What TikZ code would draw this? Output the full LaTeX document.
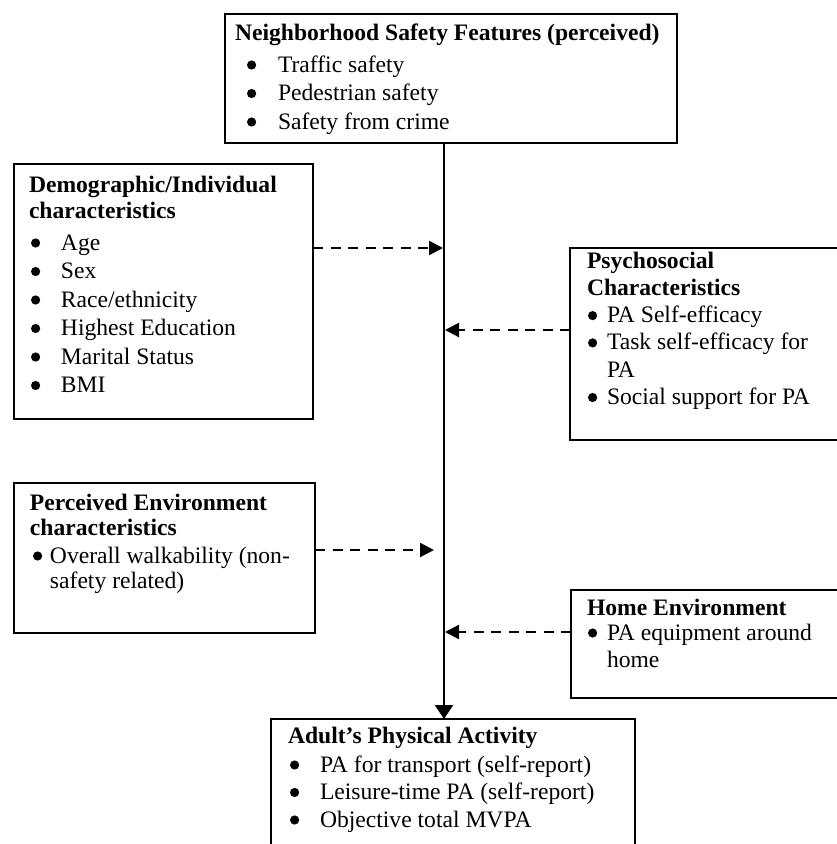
\documentclass[tikz,border=0pt]{standalone}
\usepackage{fontspec}
\setmainfont{Liberation Serif}
\usetikzlibrary{arrows.meta}
\newcommand\bigdot{\tikz[baseline=0pt]\fill[black] (4.6pt,7pt) circle[radius=4.6pt];}
\newcommand\bul[2]{\makebox[#1][l]{\bigdot}#2}
\newcommand\fsA{\fontsize{23.6}{28.5}\selectfont}
\newcommand\fsB{\fontsize{23.6}{27.3}\selectfont}
\newcommand\fsC{\fontsize{23.6}{26.5}\selectfont}
\newcommand\fsD{\fontsize{23.6}{27.5}\selectfont}
\begin{document}
\begin{tikzpicture}[x=1pt,y=-1pt,
  panel/.style={draw, line width=2.4pt, anchor=north west, inner sep=0pt, outer sep=0pt},
  txt/.style={anchor=base west, inner sep=0pt, outer sep=0pt},
  flow/.style={line width=2.3pt, -{Triangle[length=14pt,width=18pt]}},
  dflow/.style={line width=2.2pt, dash pattern=on 10pt off 7.5pt, -{Triangle[length=14pt,width=14pt]}}]
\useasboundingbox (0,0) rectangle (837,844);
\fill[white] (0,0) rectangle (837,844);
\clip (0,0) rectangle (837,844);

% boxes
\node[panel, minimum width=452pt, minimum height=129pt] (nsf) at (225,14) {};
\node[panel, minimum width=299pt, minimum height=255pt] (demo) at (14,164) {};
\node[panel, minimum width=280pt, minimum height=192pt] (psy) at (570,248) {};
\node[panel, minimum width=301pt, minimum height=150pt] (perc) at (14,483) {};
\node[panel, minimum width=280pt, minimum height=108pt] (home) at (571,590) {};
\node[panel, minimum width=364pt, minimum height=140pt] (adult) at (271,719) {};

% texts
\node[txt, font=\fsA] (nsft) at (235,40) {\begin{tabular}[t]{@{}l@{}}
\textbf{Neighborhood Safety Features (perceived)}\\[3.5pt]
\hspace{12pt}\bul{31pt}{Traffic safety}\\
\hspace{12pt}\bul{31pt}{Pedestrian safety}\\
\hspace{12pt}\bul{31pt}{Safety from crime}
\end{tabular}};

\node[txt, font=\fsA] (demot) at (29,192) {\begin{tabular}[t]{@{}l@{}}
\textbf{Demographic/Individual}\\[-2.5pt]
\textbf{characteristics}\\[3.5pt]
\hspace{2pt}\bul{30pt}{Age}\\
\hspace{2pt}\bul{30pt}{Sex}\\
\hspace{2pt}\bul{30pt}{Race/ethnicity}\\
\hspace{2pt}\bul{30pt}{Highest Education}\\
\hspace{2pt}\bul{30pt}{Marital Status}\\
\hspace{2pt}\bul{30pt}{BMI}
\end{tabular}};

\node[txt, font=\fsB] (psyt) at (587,268) {\begin{tabular}[t]{@{}l@{}}
\textbf{Psychosocial}\\
\textbf{Characteristics}\\
\hspace{1pt}\bul{19pt}{PA Self-efficacy}\\
\hspace{1pt}\bul{19pt}{Task self-efficacy for}\\
\hspace{20pt}PA\\
\hspace{1pt}\bul{19pt}{Social support for PA}
\end{tabular}};

\node[txt, font=\fsC] (perct) at (30,510) {\begin{tabular}[t]{@{}l@{}}
\textbf{Perceived Environment}\\[-1.5pt]
\textbf{characteristics}\\[1.5pt]
\hspace{3pt}\bul{17pt}{Overall walkability (non-}\\[-1.5pt]
\hspace{20pt}safety related)
\end{tabular}};

\node[txt, font=\fsC] (homet) at (587,615) {\begin{tabular}[t]{@{}l@{}}
\textbf{Home Environment}\\[-1.5pt]
\hspace{1pt}\bul{19pt}{PA equipment around}\\[0.5pt]
\hspace{20pt}home
\end{tabular}};

\node[txt, font=\fsD] (adultt) at (288,743) {\begin{tabular}[t]{@{}l@{}}
\textbf{Adult’s Physical Activity}\\[1.5pt]
\hspace{2pt}\bul{30pt}{PA for transport (self-report)}\\
\hspace{2pt}\bul{30pt}{Leisure-time PA (self-report)}\\
\hspace{2pt}\bul{30pt}{Objective total MVPA}
\end{tabular}};

% connectors
\coordinate (axis) at (444,0);
\coordinate (a1) at (443,248);
\coordinate (a2) at (445,330);
\coordinate (a3) at (434,550);
\coordinate (a4) at (445,632);
\draw[flow] (nsf.south -| axis) -- (adult.north -| axis);
\draw[dflow] (demo.east |- a1) -- (a1);
\draw[dflow] (psy.west |- a2) -- (a2);
\draw[dflow] (perc.east |- a3) -- (a3);
\draw[dflow] (home.west |- a4) -- (a4);
\end{tikzpicture}
\end{document}
